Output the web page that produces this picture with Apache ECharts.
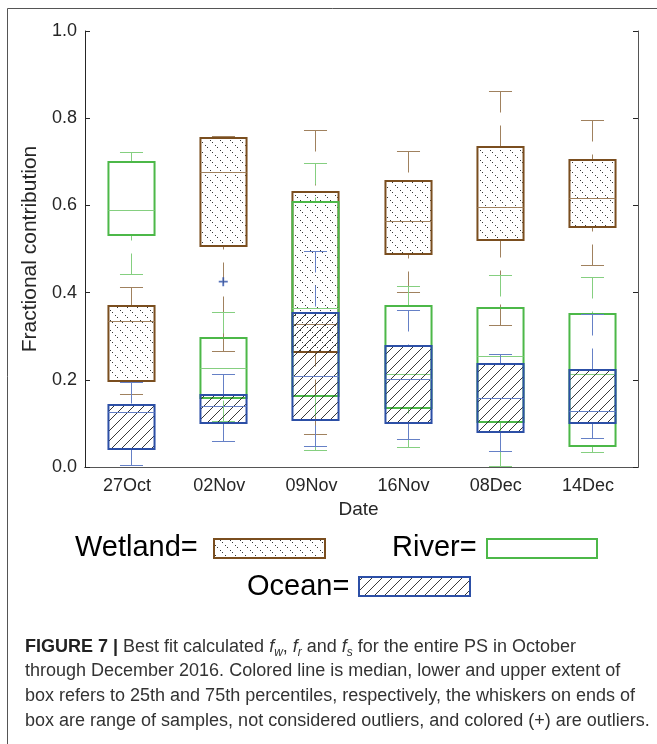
<!DOCTYPE html>
<html><head><meta charset="utf-8">
<script src="https://cdn.jsdelivr.net/npm/echarts@6.0.0/dist/echarts.min.js"></script>
<style>html,body{margin:0;padding:0;background:#fff;} #c{width:657px;height:744px;}</style>
</head><body><div id="c"></div>
<script>
// ---- data ----
const dates = ['27Oct', '02Nov', '09Nov', '16Nov', '08Dec', '14Dec'];
const yTickValues = [0.0, 0.2, 0.4, 0.6, 0.8, 1.0];
// each row: [lower whisker, Q1, median, Q3, upper whisker]
const wetland = [
  [0.167, 0.197, 0.335, 0.369, 0.413],
  [0.266, 0.506, 0.677, 0.755, 0.759],
  [0.075, 0.263, 0.328, 0.631, 0.773],
  [0.401, 0.489, 0.564, 0.656, 0.724],
  [0.326, 0.520, 0.596, 0.733, 0.862],
  [0.463, 0.551, 0.617, 0.705, 0.795]
];
const river = [
  [0.442, 0.532, 0.589, 0.699, 0.723],
  [0.105, 0.159, 0.226, 0.295, 0.355],
  [0.040, 0.162, 0.365, 0.607, 0.698],
  [0.046, 0.136, 0.214, 0.369, 0.415],
  [0.003, 0.104, 0.254, 0.365, 0.440],
  [0.035, 0.048, 0.214, 0.352, 0.435]
];
const ocean = [
  [0.005, 0.042, 0.127, 0.143, 0.195],
  [0.060, 0.101, 0.141, 0.166, 0.214],
  [0.048, 0.107, 0.208, 0.354, 0.495],
  [0.065, 0.100, 0.202, 0.277, 0.361],
  [0.036, 0.081, 0.159, 0.237, 0.260],
  [0.067, 0.101, 0.128, 0.222, 0.350]
];
const oceanOutlierDates = ['02Nov'];
const oceanOutlierValues = [0.425];
const legendNames = ['Wetland=', 'River=', 'Ocean='];
const captionLines = [
  'through December 2016. Colored line is median, lower and upper extent of',
  'box refers to 25th and 75th percentiles, respectively, the whiskers on ends of',
  'box are range of samples, not considered outliers, and colored (+) are outliers.'
];

// ---- styles ----
const C = {
  wetBox: '#7a4e1f', wetLine: '#a0815e',
  rivBox: '#4cb848', rivLine: '#85cf80',
  ocBox: '#2c4fa6', ocLine: '#6580c6',
  axis: '#262626'
};

function wetPattern() {
  const c = document.createElement('canvas'); c.width = 10; c.height = 10;
  const g = c.getContext('2d'); g.fillStyle = '#3a3a3a';
  [[0,0],[2,2],[5,5],[7,7]].forEach(p => g.fillRect(p[0], p[1], 1, 1));
  return c;
}
function oceanPattern() {
  const c = document.createElement('canvas'); c.width = 10; c.height = 10;
  const g = c.getContext('2d'); g.strokeStyle = '#222'; g.lineWidth = 0.9;
  g.beginPath();
  g.moveTo(-1, 11); g.lineTo(11, -1);
  g.moveTo(-1, 1); g.lineTo(1, -1);
  g.moveTo(9, 11); g.lineTo(11, 9);
  g.stroke();
  return c;
}
const wetFill = { image: wetPattern(), repeat: 'repeat' };
const ocFill = { image: oceanPattern(), repeat: 'repeat' };

function makeRender(fill, boxColor, lineColor) {
  return function (params, api) {
    const xi = api.value(0);
    const lo = api.value(1), q1 = api.value(2), med = api.value(3), q3 = api.value(4), hi = api.value(5);
    const cx = Math.round(api.coord([xi, 0])[0]) + 0.5;
    const band = api.size([1, 0])[0];
    const bw = band * 0.5, cw = bw * 0.5;
    const y = v => Math.round(api.coord([xi, v])[1]) + 0.5;
    const dash = [21, 13];
    const ls = { stroke: lineColor, lineWidth: 1 };
    const children = [
      { type: 'line', shape: { x1: cx, y1: y(hi), x2: cx, y2: y(q3) }, style: Object.assign({ lineDash: dash }, ls) },
      { type: 'line', shape: { x1: cx, y1: y(lo), x2: cx, y2: y(q1) }, style: Object.assign({ lineDash: dash }, ls) },
      { type: 'line', shape: { x1: cx - cw / 2, y1: y(hi), x2: cx + cw / 2, y2: y(hi) }, style: ls },
      { type: 'line', shape: { x1: cx - cw / 2, y1: y(lo), x2: cx + cw / 2, y2: y(lo) }, style: ls },
      { type: 'rect', shape: { x: cx - bw / 2, y: y(q3) - 0.5, width: bw, height: y(q1) - y(q3) },
        style: { fill: fill || 'none', stroke: boxColor, lineWidth: 2 } },
      { type: 'line', shape: { x1: cx - bw / 2, y1: y(med), x2: cx + bw / 2, y2: y(med) }, style: ls }
    ];
    return { type: 'group', children: children };
  };
}
function toData(arr) { return arr.map((r, i) => [i].concat(r)); }

const chart = echarts.init(document.getElementById('c'), null, { renderer: 'canvas' });
const font = 'Liberation Sans, Arial, Helvetica, sans-serif';

const graphics = [];
// figure frame
graphics.push({ type: 'line', shape: { x1: 7.5, y1: 8.5, x2: 657, y2: 8.5 }, style: { stroke: '#555', lineWidth: 1 }, silent: true });
graphics.push({ type: 'line', shape: { x1: 7.5, y1: 8.5, x2: 7.5, y2: 744 }, style: { stroke: '#555', lineWidth: 1 }, silent: true });
// legend
const legText = (t, x, yy) => ({ type: 'text', x: x, y: yy, style: { text: t, font: '29px ' + font, fill: '#000', verticalAlign: 'middle' } });
graphics.push(legText(legendNames[0], 75, 548));
graphics.push({ type: 'rect', shape: { x: 214, y: 539, width: 111, height: 19 }, style: { fill: wetFill, stroke: C.wetBox, lineWidth: 2 } });
graphics.push(legText(legendNames[1], 392, 548));
graphics.push({ type: 'rect', shape: { x: 487, y: 539, width: 110, height: 19 }, style: { fill: 'none', stroke: C.rivBox, lineWidth: 2 } });
graphics.push(legText(legendNames[2], 247, 587));
graphics.push({ type: 'rect', shape: { x: 359, y: 577, width: 111, height: 19 }, style: { fill: ocFill, stroke: C.ocBox, lineWidth: 2 } });
// caption
graphics.push({
  type: 'text', x: 25, y: 647,
  style: {
    text: '{b|FIGURE 7 | }Best fit calculated {i|f}{s|w}, {i|f}{s|r} and {i|f}{s|s} for the entire PS in October',
    font: '18px ' + font, fill: '#333', verticalAlign: 'middle',
    rich: {
      b: { fontWeight: 'bold', fontSize: 18, fontFamily: font, fill: '#222' },
      i: { fontStyle: 'italic', fontSize: 18, fontFamily: font, fill: '#333' },
      s: { fontStyle: 'italic', fontSize: 12, fontFamily: font, fill: '#333', padding: [12, 0, 0, 0] }
    }
  }
});
captionLines.forEach((t, k) => {
  graphics.push({ type: 'text', x: 25, y: [671, 696, 721][k], style: { text: t, font: '18px ' + font, fill: '#333', verticalAlign: 'middle' } });
});

const axisLineStyle = { color: C.axis, width: 1 };
chart.setOption({
  animation: false,
  backgroundColor: '#fff',
  textStyle: { fontFamily: font },
  grid: { left: 85, right: 19, top: 31, bottom: 277, containLabel: false },
  xAxis: [
    { type: 'category', data: dates, position: 'bottom', boundaryGap: true,
      axisLine: { lineStyle: axisLineStyle },
      axisTick: { alignWithLabel: true, inside: true, length: 5, lineStyle: { color: C.axis } },
      axisLabel: { fontSize: 18, color: C.axis, margin: 10, fontFamily: font, padding: [0, 8, 0, 0] },
      name: 'Date', nameLocation: 'middle', nameGap: 32,
      nameTextStyle: { fontSize: 19, color: C.axis, fontFamily: font, padding: [0, 6, 0, 0] },
      splitLine: { show: false } },
    { type: 'category', data: dates, position: 'top', boundaryGap: true,
      axisLine: { lineStyle: { color: '#555' } },
      axisTick: { alignWithLabel: true, inside: true, length: 5, lineStyle: { color: C.axis } },
      axisLabel: { show: false }, splitLine: { show: false } }
  ],
  yAxis: [
    { type: 'value', min: 0, max: 1, interval: 0.2, position: 'left',
      axisLine: { show: true, lineStyle: axisLineStyle },
      axisTick: { show: true, inside: true, length: 5, lineStyle: { color: C.axis } },
      axisLabel: { fontSize: 18, color: C.axis, margin: 8, fontFamily: font,
        formatter: v => (yTickValues.indexOf(+v.toFixed(1)) >= 0 ? v.toFixed(1) : '') },
      splitLine: { show: false },
      name: 'Fractional contribution', nameLocation: 'middle', nameGap: 36,
      nameTextStyle: { fontSize: 21, color: C.axis, fontFamily: font } },
    { type: 'value', min: 0, max: 1, interval: 0.2, position: 'right',
      axisLine: { show: true, lineStyle: { color: '#555' } },
      axisTick: { show: true, inside: true, length: 5, lineStyle: { color: C.axis } },
      axisLabel: { show: false }, splitLine: { show: false } }
  ],
  series: [
    { name: 'Wetland', type: 'custom', silent: true, renderItem: makeRender(wetFill, C.wetBox, C.wetLine),
      encode: { x: 0, y: [1, 2, 3, 4, 5] }, data: toData(wetland) },
    { name: 'River', type: 'custom', silent: true, renderItem: makeRender(null, C.rivBox, C.rivLine),
      encode: { x: 0, y: [1, 2, 3, 4, 5] }, data: toData(river) },
    { name: 'Ocean', type: 'custom', silent: true, renderItem: makeRender(ocFill, C.ocBox, C.ocLine),
      encode: { x: 0, y: [1, 2, 3, 4, 5] }, data: toData(ocean) },
    { name: 'Ocean outliers', type: 'scatter', silent: true,
      symbol: 'path://M4,0 L6,0 L6,4 L10,4 L10,6 L6,6 L6,10 L4,10 L4,6 L0,6 L0,4 L4,4 Z',
      symbolSize: 9, itemStyle: { color: C.ocBox },
      data: oceanOutlierDates.map((d, i) => [d, oceanOutlierValues[i]]) }
  ],
  graphic: graphics
});
</script>
</body></html>
